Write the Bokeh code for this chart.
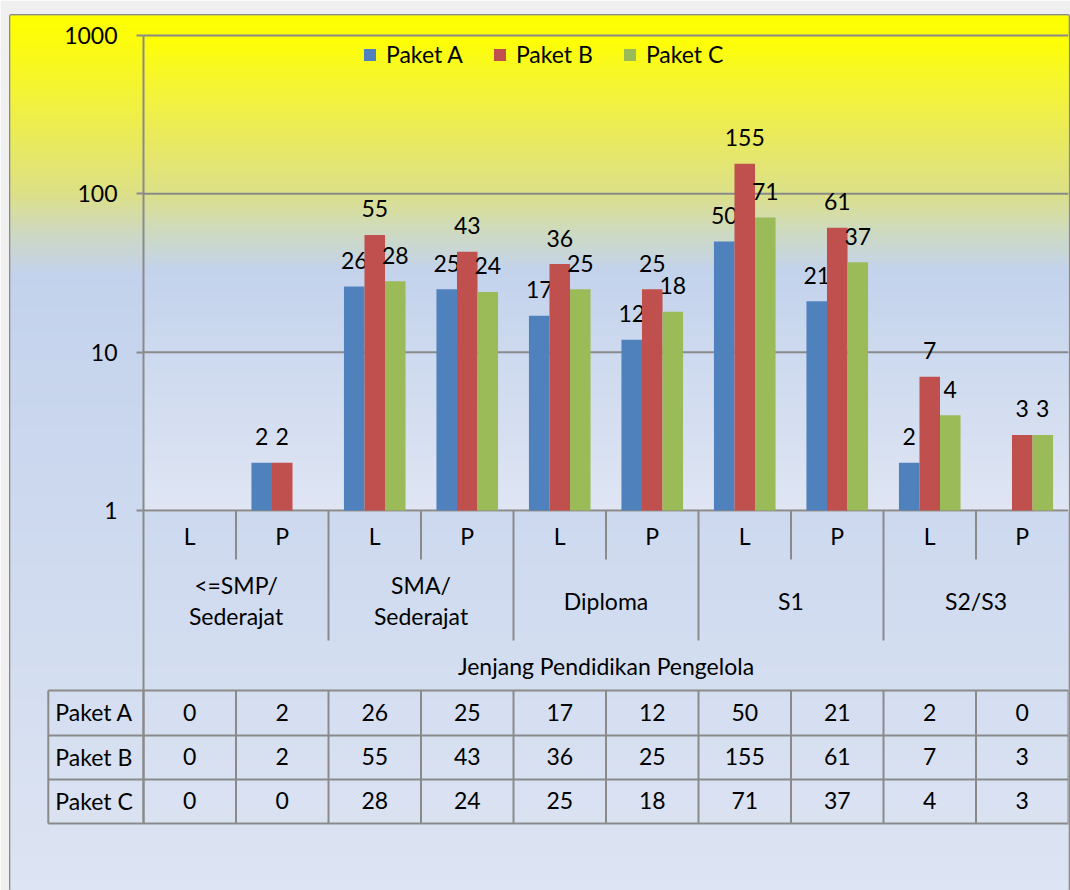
import numpy as np
from bokeh.plotting import figure
from bokeh.models import (Range1d, FixedTicker, NumeralTickFormatter, ColumnDataSource,
                          Legend, LegendItem, LinearScale)
from bokeh.core.properties import value
from bokeh.embed import file_html
from bokeh.resources import INLINE

# ---------------- data ----------------
groups = ["<=SMP/ Sederajat", "SMA/ Sederajat", "Diploma", "S1", "S2/S3"]
genders = ["L", "P"]
series = ["Paket A", "Paket B", "Paket C"]
paket_a = [0, 2, 26, 25, 17, 12, 50, 21, 2, 0]
paket_b = [0, 2, 55, 43, 36, 25, 155, 61, 7, 3]
paket_c = [0, 0, 28, 24, 25, 18, 71, 37, 4, 3]
y_ticks = [1, 10, 100, 1000]
axis_title = "Jenjang Pendidikan Pengelola"

# ---------------- style / layout ----------------
colors = ["#4F81BD", "#C0504D", "#9BBB59"]
FONT = "Lato"
FS = "23px"
GREY = "#8a8a8a"
W, H = 1070, 890
MBL, MBT, MBR = 10, 15, 2
F_LEFT, F_TOP = MBL, MBT                      # page coords of frame (page has no margin)
F_RIGHT, F_BOTTOM = W - MBR, H
PLOT_LEFT = 143                               # page x of plot area
Y1_PX, DEC_PX = 510, 158.33                   # page y of value 1, px per decade
n_cat = len(groups) * len(genders)
cat_px = (F_RIGHT - PLOT_LEFT) / n_cat
x_start = -(PLOT_LEFT - F_LEFT) / cat_px
y_max = 10 ** ((Y1_PX - F_TOP) / DEC_PX)
y_min = 10 ** (-(F_BOTTOM - Y1_PX) / DEC_PX)

p = figure(width=W, height=H, y_axis_type="log",
           x_range=Range1d(x_start, n_cat), y_range=Range1d(y_min, y_max),
           output_backend="svg", toolbar_location=None, x_axis_location=None,
           min_border_left=MBL, min_border_top=MBT, min_border_right=MBR, min_border_bottom=0)
p.extra_y_ranges = {"py": Range1d(F_BOTTOM, F_TOP)}
p.extra_y_scales = {"py": LinearScale()}
p.grid.visible = False
p.border_fill_color = "#efefef"
p.outline_line_color = GREY
p.outline_line_width = 3


def hex2rgb(c):
    return [int(c[i:i + 2], 16) for i in (1, 3, 5)]


def gradient(stops, y0, y1, x0, x1, step=2):
    ys = np.arange(y0, y1, step)
    pos = [s[0] for s in stops]
    rgb = np.array([hex2rgb(c) for _, c in stops], dtype=float)
    cols = []
    for y in ys + step / 2:
        r, g, b = (int(round(np.interp(y, pos, rgb[:, k]))) for k in range(3))
        cols.append("#%02x%02x%02x" % (r, g, b))
    p.quad(left=x0, right=x1, top=ys, bottom=ys + step, fill_color=cols,
           line_color=cols, line_width=1, y_range_name="py")


outer_stops = [(15, "#ffff00"), (40, "#fcfc0c"), (115, "#efef48"), (192, "#dde084"),
               (235, "#cdd8c4"), (274, "#c3d2ec"), (890, "#dde4f3")]
inner_stops = [(35, "#ffff00"), (80, "#f6f62e"), (130, "#ebeb58"), (193, "#dce088"),
               (232, "#cedac0"), (270, "#c3d3ec"), (510, "#dfe5f3")]
gradient(outer_stops, F_TOP, F_BOTTOM, x_start, n_cat)
gradient(inner_stops, 35, Y1_PX, 0, n_cat)

# gridlines (plot area only)
p.segment(x0=0, x1=n_cat, y0=y_ticks, y1=y_ticks, line_color=GREY, line_width=2)

# bars
bw = 0.222
renderers = []
for s, (name, vals) in enumerate(zip(series, [paket_a, paket_b, paket_c])):
    xs = [i + 0.5 + (s - 1) * bw for i, v in enumerate(vals) if v > 0]
    tops = [v for v in vals if v > 0]
    src = ColumnDataSource(dict(x=xs, top=tops, lab=[str(v) for v in tops]))
    r = p.vbar(x="x", top="top", bottom=1, width=bw, source=src,
               fill_color=colors[s], line_color=None)
    renderers.append(r)
    p.text(x="x", y="top", text="lab", source=src, text_align="center",
           text_baseline="alphabetic", y_offset=-26, text_font=value(FONT),
           text_font_size=FS, text_color="black")

# y axis at plot-left
ya = p.yaxis[0]
ya.fixed_location = 0
ya.ticker = FixedTicker(ticks=y_ticks, minor_ticks=[])
ya.formatter = NumeralTickFormatter(format="0")
ya.bounds = (1, 1000)
ya.major_tick_out = 7
ya.major_tick_in = 0
ya.minor_tick_out = 0
ya.minor_tick_in = 0
ya.axis_line_color = GREY
ya.axis_line_width = 2
ya.major_tick_line_color = GREY
ya.major_tick_line_width = 2
ya.major_label_standoff = 19
ya.major_label_text_font = FONT
ya.major_label_text_font_size = FS
ya.major_label_text_color = "black"

# ---------- category axis (below plot) ----------
TABLE_LEFT = -(PLOT_LEFT - 48) / 92.3
rows_y = [690, 735, 779, 823]
p.segment(x0=0, x1=0, y0=Y1_PX, y1=rows_y[-1], line_color=GREY, line_width=2, y_range_name="py")
sep_minor = [k for k in range(1, n_cat) if k % 2 == 1]
sep_major = [k for k in range(1, n_cat) if k % 2 == 0]
p.segment(x0=sep_minor, x1=sep_minor, y0=Y1_PX, y1=559, line_color=GREY, line_width=2,
          y_range_name="py")
p.segment(x0=sep_major, x1=sep_major, y0=Y1_PX, y1=640, line_color=GREY, line_width=2,
          y_range_name="py")

cat_x = [i + 0.5 for i in range(n_cat)]
cat_lab = [genders[i % 2] for i in range(n_cat)]
p.text(x=cat_x, y=[535] * n_cat, text=cat_lab, text_align="center", text_baseline="middle",
       text_font=value(FONT), text_font_size=FS, text_color="black", y_range_name="py")
grp_x = [2 * g + 1 for g in range(len(groups))]
grp_lab = [g.replace("/ ", "/\n") for g in groups]
p.text(x=grp_x, y=[600] * len(groups), text=grp_lab, text_align="center",
       text_baseline="middle", text_line_height=1.1, text_font=value(FONT),
       text_font_size=FS, text_color="black", y_range_name="py")
p.text(x=[n_cat / 2], y=[665], text=[axis_title], text_align="center", text_baseline="middle",
       text_font=value(FONT), text_font_size=FS, text_color="black", y_range_name="py")

# ---------- data table ----------
p.segment(x0=TABLE_LEFT, x1=n_cat, y0=rows_y, y1=rows_y, line_color=GREY, line_width=2,
          y_range_name="py")
vlines = [TABLE_LEFT] + list(range(0, n_cat + 1))
p.segment(x0=vlines, x1=vlines, y0=rows_y[0], y1=rows_y[-1], line_color=GREY, line_width=2,
          y_range_name="py")
row_c = [(rows_y[k] + rows_y[k + 1]) / 2 - 1 for k in range(3)]
p.text(x=[TABLE_LEFT] * 3, y=row_c, text=series, x_offset=7, text_align="left",
       text_baseline="middle", text_font=value(FONT), text_font_size=FS,
       text_color="black", y_range_name="py")
tx, ty, tt = [], [], []
for k, vals in enumerate([paket_a, paket_b, paket_c]):
    for i, v in enumerate(vals):
        tx.append(i + 0.5)
        ty.append(row_c[k])
        tt.append(str(v))
p.text(x=tx, y=ty, text=tt, text_align="center", text_baseline="middle",
       text_font=value(FONT), text_font_size=FS, text_color="black", y_range_name="py")

# ---------- legend ----------
legend = Legend(items=[LegendItem(label=s, renderers=[r]) for s, r in zip(series, renderers)],
                orientation="horizontal", location=(352, F_BOTTOM - 68),
                glyph_width=15, glyph_height=15, label_standoff=9, spacing=29,
                padding=0, margin=0, border_line_color=None, background_fill_alpha=0,
                label_text_font=FONT, label_text_font_size=FS, label_text_color="black")
p.add_layout(legend)

open("out.html", "w").write(file_html(p, INLINE))
